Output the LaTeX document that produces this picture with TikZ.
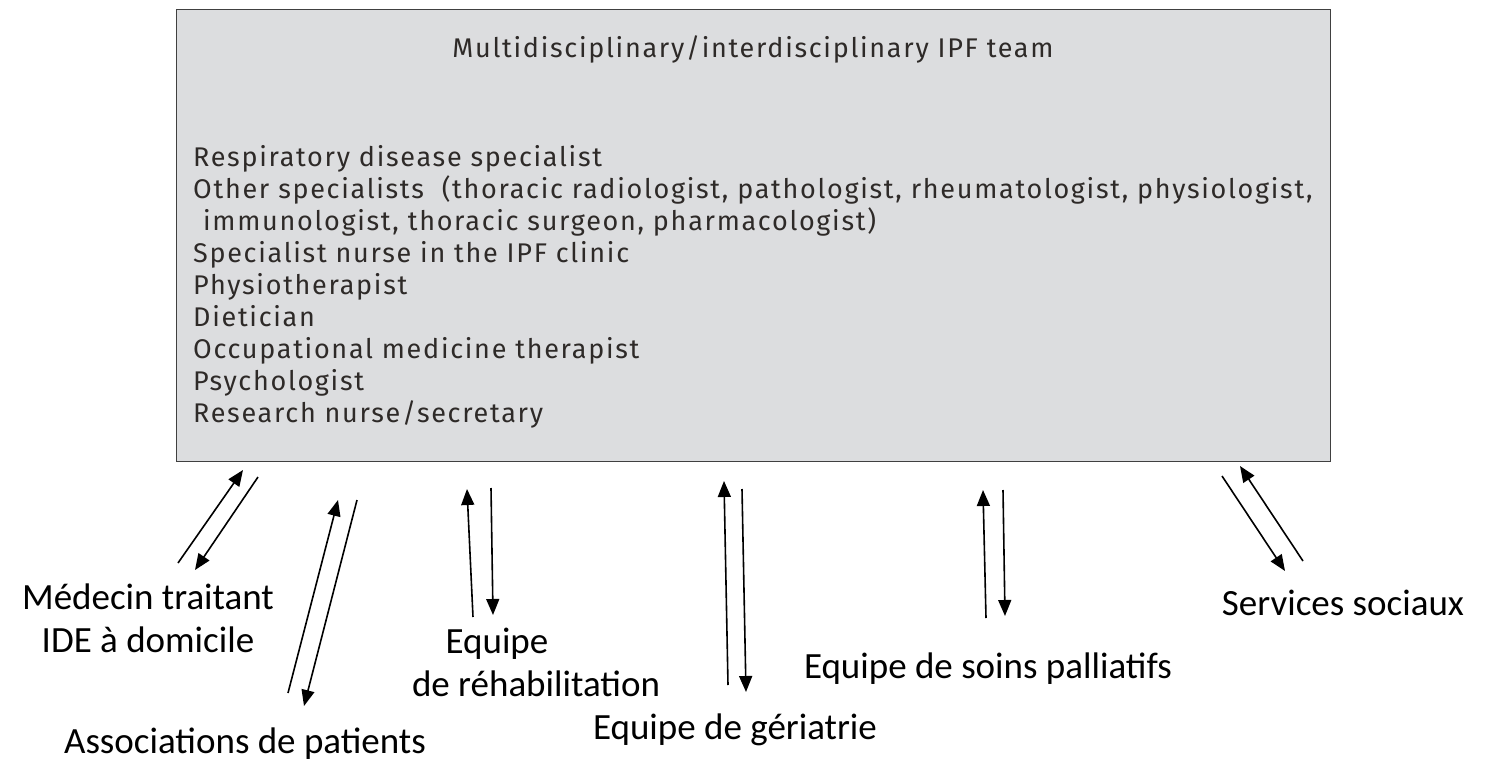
\documentclass[tikz,border=0pt]{standalone}
\usepackage{fontspec}
\setmainfont{Carlito}
\newfontfamily\boxfont[LetterSpace=6.3]{Fira Sans}
\usetikzlibrary{arrows.meta}
\definecolor{boxfill}{HTML}{DCDDDF}
\definecolor{boxtext}{HTML}{2E2A28}
\tikzset{
  teambox/.style={draw=black!75, line width=1.3pt, fill=boxfill},
  rowtext/.style={anchor=base west, text=boxtext, font=\boxfont\fontsize{27}{31}\selectfont, inner sep=0pt},
  lbl/.style={anchor=base, font=\fontsize{37}{42}\selectfont, inner sep=0pt},
  flow/.style={line width=1.6pt, -{Triangle[length=16pt,width=13pt]}}
}
\begin{document}
\begin{tikzpicture}[x=1pt,y=-1pt]
\useasboundingbox (0,0) rectangle (1486,763);
\node[teambox, minimum width=1154pt, minimum height=452pt, anchor=north west, inner sep=0pt] (team) at (176,9) {};
\node[rowtext, anchor=base] (title) at (753,57) {Multidisciplinary/interdisciplinary IPF team};
\node[rowtext] (r1) at (193,166) {Respiratory disease specialist};
\node[rowtext] (r2) at (193,198) {Other specialists\ \ (thoracic radiologist, pathologist, rheumatologist, physiologist,};
\node[rowtext] (r3) at (203,230) {immunologist, thoracic surgeon, pharmacologist)};
\node[rowtext] (r4) at (193,262) {Specialist nurse in the IPF clinic};
\node[rowtext] (r5) at (193,294) {Physiotherapist};
\node[rowtext] (r6) at (193,326) {Dietician};
\node[rowtext] (r7) at (193,358) {Occupational medicine therapist};
\node[rowtext] (r8) at (193,390) {Psychologist};
\node[rowtext] (r9) at (193,422) {Research nurse/secretary};

\node[lbl] (med1) at (148,609) {Médecin traitant};
\node[lbl] (med2) at (148,652) {IDE à domicile};
\node[lbl] (asso) at (245,753) {Associations de patients};
\node[lbl] (reh1) at (497,653) {Equipe};
\node[lbl] (reh2) at (536,696) {de réhabilitation};
\node[lbl] (ger) at (735,739) {Equipe de gériatrie};
\node[lbl] (pal) at (988,678) {Equipe de soins palliatifs};
\node[lbl] (soc) at (1343,615) {Services sociaux};

% connector end points
\coordinate (a1) at (178,563); \coordinate (a2) at (243,470);
\coordinate (b1) at (258,477); \coordinate (b2) at (195,570);
\coordinate (c1) at (288,693); \coordinate (c2) at (338,500);
\coordinate (d1) at (357,500); \coordinate (d2) at (304,706);
\coordinate (e1) at (473,617); \coordinate (e2) at (467,489);
\coordinate (f1) at (491,488); \coordinate (f2) at (493,615);
\coordinate (g1) at (728,685); \coordinate (g2) at (724,481);
\coordinate (h1) at (742,489); \coordinate (h2) at (746,692);
\coordinate (i1) at (986,618); \coordinate (i2) at (983,490);
\coordinate (j1) at (1003,490); \coordinate (j2) at (1005,616);
\coordinate (k1) at (1222,476); \coordinate (k2) at (1285,571);
\coordinate (l1) at (1303,561); \coordinate (l2) at (1240,466);

\draw[flow] (a1) -- (a2);
\draw[flow] (b1) -- (b2);
\draw[flow] (c1) -- (c2);
\draw[flow] (d1) -- (d2);
\draw[flow] (e1) -- (e2);
\draw[flow] (f1) -- (f2);
\draw[flow] (g1) -- (g2);
\draw[flow] (h1) -- (h2);
\draw[flow] (i1) -- (i2);
\draw[flow] (j1) -- (j2);
\draw[flow] (k1) -- (k2);
\draw[flow] (l1) -- (l2);
\end{tikzpicture}
\end{document}
